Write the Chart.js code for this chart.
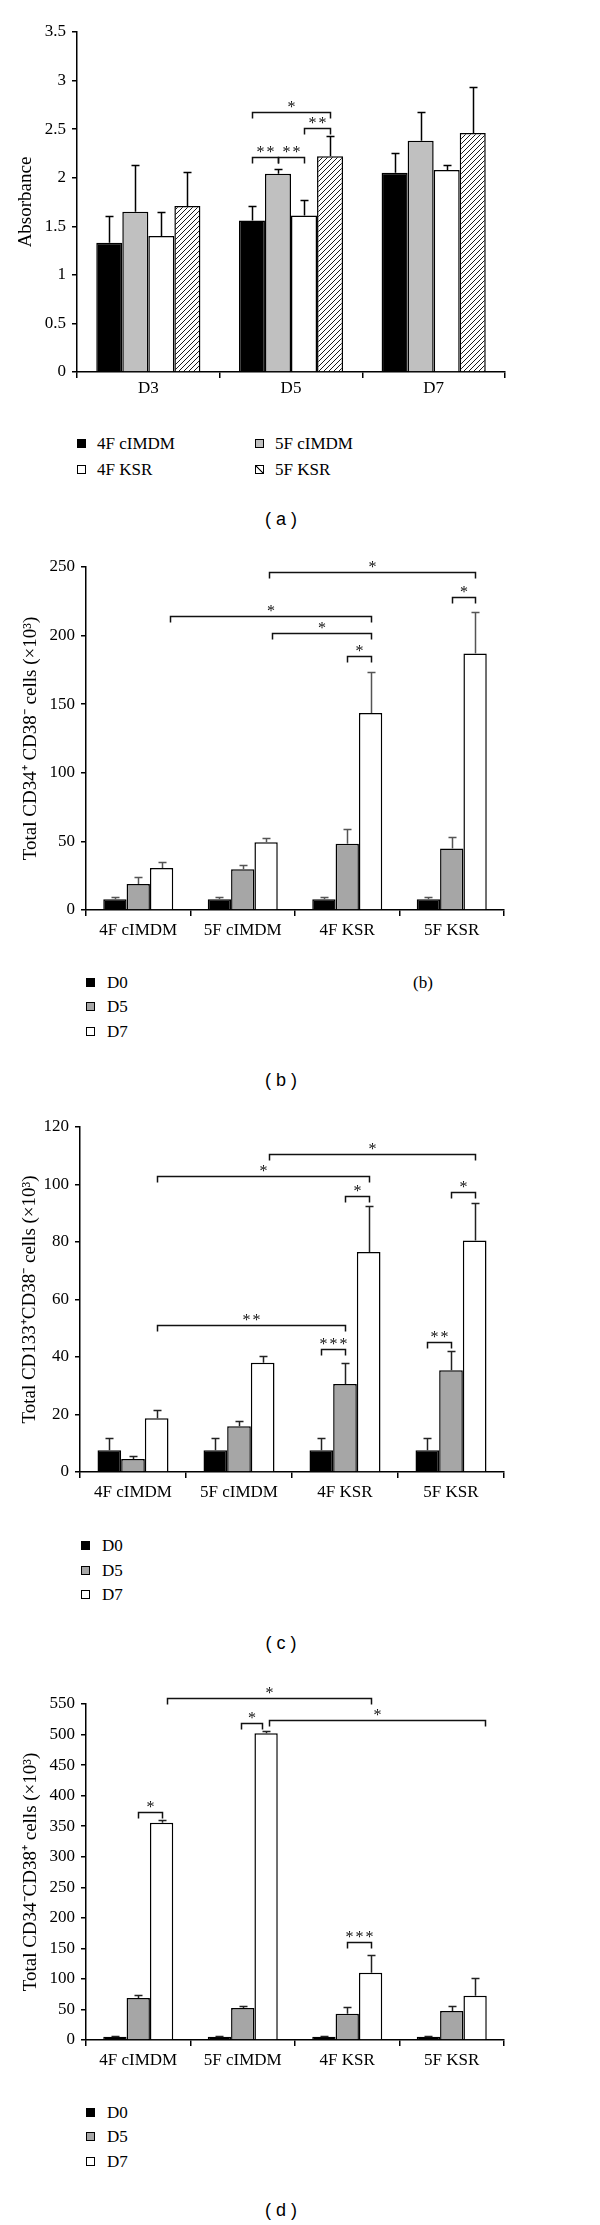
<!DOCTYPE html>
<html>
<head>
<meta charset="utf-8">
<script src="https://cdn.jsdelivr.net/npm/chart.js@4.4.0/dist/chart.umd.min.js"></script>
<style>
  body { margin: 0; background: #fff; width: 600px; height: 2225px; position: relative; overflow: hidden; }
  canvas { position: absolute; left: 0; }
  .li { position: absolute; font: 17px 'Liberation Serif', serif; color: #000; transform: translateY(-50%); white-space: nowrap; line-height: 20px; }
  .sw { position: absolute; width: 7px; height: 7px; border: 1px solid #000; top: 5px; }
  .cap { position: absolute; font: 18px 'Liberation Sans', sans-serif; transform: translate(-50%, -50%); white-space: pre; }
  .tag { position: absolute; font: 17px 'Liberation Serif', serif; transform: translate(-50%, -50%); }
</style>
</head>
<body>
<canvas id="chartA" width="600" height="400" style="top:0px"></canvas>
<canvas id="chartB" width="600" height="400" style="top:540px"></canvas>
<canvas id="chartC" width="600" height="400" style="top:1100px"></canvas>
<canvas id="chartD" width="600" height="390" style="top:1680px"></canvas>
<div id="legends"></div>
<div class="cap" style="left:281px;top:519px">( a )</div>
<div class="tag" style="left:423px;top:983px">(b)</div>
<div class="cap" style="left:281px;top:1080px">( b )</div>
<div class="cap" style="left:281px;top:1643px">( c )</div>
<div class="cap" style="left:281px;top:2210px">( d )</div>

<script>
// (a) absorbance by day
const daysA = ['D3', 'D5', 'D7'];
const namesA = ['4F cIMDM', '5F cIMDM', '4F KSR', '5F KSR'];
const abs4FcIMDM = [1.33, 1.56, 2.05];
const abs5FcIMDM = [1.65, 2.04, 2.38];
const abs4FKSR   = [1.40, 1.61, 2.08];
const abs5FKSR   = [1.71, 2.22, 2.46];
const sd4FcIMDM  = [0.28, 0.15, 0.20];
const sd5FcIMDM  = [0.48, 0.05, 0.30];
const sd4FKSR    = [0.25, 0.16, 0.05];
const sd5FKSR    = [0.35, 0.21, 0.47];
const ticksA = [0, 0.5, 1, 1.5, 2, 2.5, 3, 3.5];
// brackets: [group1, series1, group2, series2, height, stars, dx1, dx2]
const sigA = [
    [1, 0, 1, 1, 2.21, 2],
    [1, 1, 1, 2, 2.21, 2],
    [1, 2, 1, 3, 2.51, 2],
    [1, 0, 1, 3, 2.68, 1]
];

// (b)(c)(d) cell counts by culture
const groups = ['4F cIMDM', '5F cIMDM', '4F KSR', '5F KSR'];
const days = ['D0', 'D5', 'D7'];

// (b) CD34+CD38-
const cd34pD0 = [7.8, 7.8, 7.8, 7.8];
const cd34pD5 = [19.0, 29.7, 48.2, 44.8];
const cd34pD7 = [30.7, 49.4, 143.6, 186.9];
const cd34pSdD0 = [1.4, 1.4, 1.4, 1.4];
const cd34pSdD5 = [4.8, 3.1, 11.2, 8.2];
const cd34pSdD7 = [4.6, 2.9, 29.6, 30.1];
const ticksB = [0, 50, 100, 150, 200, 250];
const sigB = [
    [1, 2, 3, 2, 246, 1, 3, 0],
    [3, 1, 3, 2, 228, 1],
    [0, 2, 2, 2, 214, 1, 8, 0],
    [1, 2, 2, 2, 202, 1, 6, 0],
    [2, 1, 2, 2, 185, 1]
];

// (c) CD133+CD38-
const cd133D0 = [7.6, 7.6, 7.6, 7.6];
const cd133D5 = [4.5, 15.9, 30.6, 35.4];
const cd133D7 = [18.7, 38.0, 76.5, 80.5];
const cd133SdD0 = [4.1, 4.1, 4.1, 4.1];
const cd133SdD5 = [1.1, 1.7, 7.2, 6.7];
const cd133SdD7 = [2.7, 2.2, 16.0, 13.1];
const ticksC = [0, 20, 40, 60, 80, 100, 120];
const sigC = [
    [1, 2, 3, 2, 110.6, 1, 6, 0],
    [0, 2, 2, 2, 103, 1],
    [2, 1, 2, 2, 96, 1],
    [3, 1, 3, 2, 97.4, 1],
    [0, 2, 2, 1, 51.1, 2],
    [2, 0, 2, 1, 42.8, 3],
    [3, 0, 3, 1, 45.2, 2]
];

// (d) CD34-CD38+
const cd38pD0 = [5.5, 5.5, 5.5, 5.5];
const cd38pD5 = [68.7, 52.4, 43.1, 47.5];
const cd38pD7 = [355.5, 502, 110, 72.6];
const cd38pSdD0 = [1.5, 1.5, 1.5, 1.5];
const cd38pSdD5 = [4.9, 3.2, 10.9, 8.7];
const cd38pSdD7 = [4.2, 3.0, 28.8, 29.2];
const ticksD = [0, 50, 100, 150, 200, 250, 300, 350, 400, 450, 500, 550];
const sigD = [
    [0, 2, 2, 2, 559.7, 1, 5, 0],
    [1, 2, 3, 2, 523.7, 1, 3, 10],
    [1, 1, 1, 2, 518.8, 1, -2, -4],
    [0, 1, 0, 2, 373, 1],
    [2, 1, 2, 2, 160.4, 3]
];

const SERIF = "'Liberation Serif', 'Times New Roman', serif";
Chart.defaults.font.family = SERIF;
Chart.defaults.color = '#000';

const BLACK = '#000', GREY_A = '#c0c0c0', GREY = '#a6a6a6', WHITE = '#fff';

// diagonal hatch for 5F KSR
function hatch() {
    const c = document.createElement('canvas');
    c.width = c.height = 5;
    const g = c.getContext('2d');
    g.fillStyle = '#fff';
    g.fillRect(0, 0, 5, 5);
    g.strokeStyle = '#000';
    g.lineWidth = 0.9;
    g.beginPath();
    g.moveTo(0, 5); g.lineTo(5, 0);
    g.moveTo(-1, 1); g.lineTo(1, -1);
    g.moveTo(4, 6); g.lineTo(6, 4);
    g.stroke();
    return g.createPattern(c, 'repeat');
}

// upward error bars with a cap
const errorBars = {
    id: 'errorBars',
    afterDatasetsDraw(chart, args, opts) {
        const ctx = chart.ctx, y = chart.scales.y;
        ctx.save();
        ctx.strokeStyle = opts.color;
        ctx.lineWidth = 1.5;
        chart.data.datasets.forEach((ds, i) => {
            chart.getDatasetMeta(i).data.forEach((bar, j) => {
                const top = Math.round(y.getPixelForValue(ds.data[j] + ds.sd[j])) + 0.5;
                const x = Math.round(bar.x) + 0.5;
                ctx.beginPath();
                ctx.moveTo(x, bar.y);
                ctx.lineTo(x, top);
                ctx.moveTo(x - 4, top);
                ctx.lineTo(x + 4, top);
                ctx.stroke();
            });
        });
        ctx.restore();
    }
};

// significance brackets, stars drawn one by one
const brackets = {
    id: 'brackets',
    afterDatasetsDraw(chart, args, opts) {
        const ctx = chart.ctx, y = chart.scales.y;
        ctx.save();
        ctx.strokeStyle = '#111';
        ctx.fillStyle = '#111';
        ctx.lineWidth = 1.5;
        ctx.font = '16px ' + SERIF;
        ctx.textAlign = 'center';
        ctx.textBaseline = 'middle';
        (opts.list || []).forEach(([g1, s1, g2, s2, v, n, dx1 = 0, dx2 = 0]) => {
            const x1 = Math.round(chart.getDatasetMeta(s1).data[g1].x + dx1) + 0.5;
            const x2 = Math.round(chart.getDatasetMeta(s2).data[g2].x + dx2) + 0.5;
            const yy = Math.round(y.getPixelForValue(v)) + 0.5;
            ctx.beginPath();
            ctx.moveTo(x1, yy + 6);
            ctx.lineTo(x1, yy);
            ctx.lineTo(x2, yy);
            ctx.lineTo(x2, yy + 6);
            ctx.stroke();
            const mid = (x1 + x2) / 2;
            for (let k = 0; k < n; k++) {
                ctx.fillText('*', mid + (k - (n - 1) / 2) * 10, yy - 5);
            }
        });
        ctx.restore();
    }
};

function drawPanel(p) {
    return new Chart(document.getElementById(p.id), {
        type: 'bar',
        data: {
            labels: p.labels,
            datasets: p.sets.map(s => ({
                label: s.label,
                data: s.data,
                sd: s.sd,
                backgroundColor: s.fill,
                borderColor: '#000',
                borderWidth: 1.5,
                barPercentage: 1,
                categoryPercentage: p.catPct
            }))
        },
        options: {
            responsive: false,
            animation: false,
            layout: { padding: { top: p.padTop, right: p.padRight, left: 0, bottom: 0 } },
            plugins: {
                legend: { display: false },
                tooltip: { enabled: false },
                errorBars: { color: p.errColor },
                brackets: { list: p.sig }
            },
            scales: {
                x: {
                    grid: { drawOnChartArea: false, tickLength: 6, color: '#000', lineWidth: 1.5 },
                    border: { color: '#000', width: 1.5 },
                    ticks: { font: { size: 17 }, padding: p.xPad, maxRotation: 0 },
                    afterFit: s => { s.height = p.xHeight; }
                },
                y: {
                    min: 0,
                    max: p.yTicks[p.yTicks.length - 1],
                    afterBuildTicks: s => { s.ticks = p.yTicks.map(v => ({ value: v })); },
                    grid: { drawOnChartArea: false, tickLength: 5, color: '#000', lineWidth: 1.5 },
                    border: { color: '#000', width: 1.5 },
                    ticks: { font: { size: 17 }, padding: 6, callback: v => String(v) },
                    title: { display: true, text: p.yTitle, font: { size: 19 }, padding: { top: p.titlePad, bottom: 0 } },
                    afterFit: s => { s.width = p.yWidth; }
                }
            }
        },
        plugins: [errorBars, brackets]
    });
}

const hatched = hatch();

drawPanel({
    id: 'chartA', labels: daysA, catPct: 0.73, errColor: '#000',
    padTop: 32, padRight: 95, yWidth: 77, xHeight: 28, xPad: 0, titlePad: 15,
    yTicks: ticksA, yTitle: 'Absorbance', sig: sigA,
    sets: [
        { label: namesA[0], data: abs4FcIMDM, sd: sd4FcIMDM, fill: BLACK },
        { label: namesA[1], data: abs5FcIMDM, sd: sd5FcIMDM, fill: GREY_A },
        { label: namesA[2], data: abs4FKSR, sd: sd4FKSR, fill: WHITE },
        { label: namesA[3], data: abs5FKSR, sd: sd5FKSR, fill: hatched }
    ]
});

drawPanel({
    id: 'chartB', labels: groups, catPct: 0.67, errColor: '#555',
    padTop: 27, padRight: 96, yWidth: 86, xHeight: 30, xPad: 4, titlePad: 20,
    yTicks: ticksB, yTitle: 'Total CD34⁺ CD38⁻ cells (×10³)', sig: sigB,
    sets: [
        { label: days[0], data: cd34pD0, sd: cd34pSdD0, fill: BLACK },
        { label: days[1], data: cd34pD5, sd: cd34pSdD5, fill: GREY },
        { label: days[2], data: cd34pD7, sd: cd34pSdD7, fill: WHITE }
    ]
});

drawPanel({
    id: 'chartC', labels: groups, catPct: 0.67, errColor: '#222',
    padTop: 27, padRight: 96, yWidth: 80, xHeight: 28, xPad: 4, titlePad: 19,
    yTicks: ticksC, yTitle: 'Total CD133⁺CD38⁻ cells (×10³)', sig: sigC,
    sets: [
        { label: days[0], data: cd133D0, sd: cd133SdD0, fill: BLACK },
        { label: days[1], data: cd133D5, sd: cd133SdD5, fill: GREY },
        { label: days[2], data: cd133D7, sd: cd133SdD7, fill: WHITE }
    ]
});

drawPanel({
    id: 'chartD', labels: groups, catPct: 0.67, errColor: '#222',
    padTop: 24, padRight: 96, yWidth: 86, xHeight: 30, xPad: 4, titlePad: 20,
    yTicks: ticksD, yTitle: 'Total CD34⁻CD38⁺ cells (×10³)', sig: sigD,
    sets: [
        { label: days[0], data: cd38pD0, sd: cd38pSdD0, fill: BLACK },
        { label: days[1], data: cd38pD5, sd: cd38pSdD5, fill: GREY },
        { label: days[2], data: cd38pD7, sd: cd38pSdD7, fill: WHITE }
    ]
});

// HTML legends
const legendBox = document.getElementById('legends');
function legend(items, spots, gap) {
    items.forEach((it, i) => {
        const div = document.createElement('div');
        div.className = 'li';
        div.style.left = spots[i][0] + 'px';
        div.style.top = spots[i][1] + 'px';
        div.style.paddingLeft = gap + 'px';
        const sw = document.createElement('span');
        sw.className = 'sw';
        sw.style.left = '0px';
        sw.style.background = it.css;
        div.appendChild(sw);
        div.appendChild(document.createTextNode(it.label));
        legendBox.appendChild(div);
    });
}
const hatchCss = 'linear-gradient(to top right, #fff 42%, #000 45%, #000 55%, #fff 58%)';
legend([
    { label: namesA[0], css: BLACK }, { label: namesA[1], css: GREY_A },
    { label: namesA[2], css: WHITE }, { label: namesA[3], css: hatchCss }
], [[77, 444], [255, 444], [77, 470], [255, 470]], 20);

const dayCss = [BLACK, GREY, WHITE];
legend(days.map((d, i) => ({ label: d, css: dayCss[i] })), [[86, 983], [86, 1007], [86, 1032]], 21);
legend(days.map((d, i) => ({ label: d, css: dayCss[i] })), [[81, 1546], [81, 1571], [81, 1595]], 21);
legend(days.map((d, i) => ({ label: d, css: dayCss[i] })), [[86, 2113], [86, 2137], [86, 2162]], 21);
</script>
</body>
</html>
